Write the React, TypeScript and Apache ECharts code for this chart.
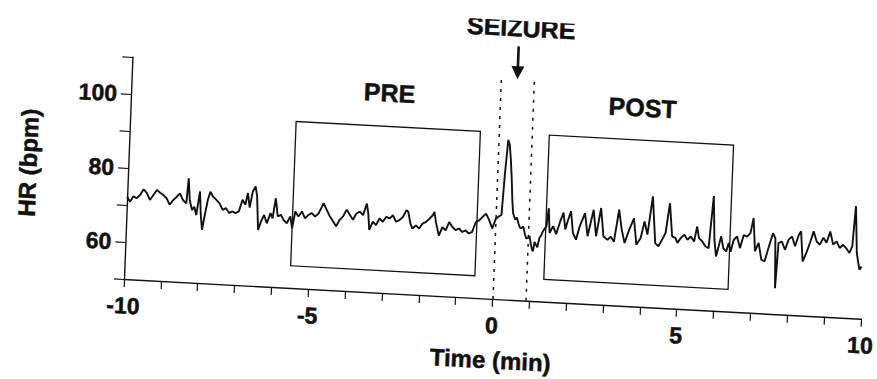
import React, { useEffect, useRef } from "react";
import * as echarts from "echarts";

// ---- Data (time in minutes relative to seizure onset, heart rate in bpm) ----
const traceBaseline: number[][] = [
  [-10.0, 72.3], [-9.92, 70.9], [-9.83, 72.4], [-9.74, 72.0], [-9.65, 72.9], [-9.56, 74.5],
  [-9.47, 73.5], [-9.38, 71.7], [-9.29, 73.1], [-9.2, 74.5], [-9.11, 73.8], [-9.02, 73.2],
  [-8.93, 72.4], [-8.84, 70.7], [-8.75, 72.0], [-8.66, 72.9], [-8.57, 73.9], [-8.48, 72.1],
  [-8.39, 71.3], [-8.35, 78.1], [-8.3, 72.2], [-8.23, 69.6], [-8.17, 70.5], [-8.11, 68.3],
  [-8.03, 74.7], [-7.99, 68.8], [-7.94, 64.4], [-7.87, 68.9], [-7.81, 72.6], [-7.75, 74.8],
  [-7.67, 73.5], [-7.58, 72.7], [-7.49, 71.8], [-7.4, 70.1], [-7.31, 70.6], [-7.22, 69.3],
  [-7.14, 69.8], [-7.05, 69.4], [-6.96, 69.9], [-6.87, 73.1], [-6.79, 71.8], [-6.73, 75.0],
  [-6.67, 71.1], [-6.6, 75.5], [-6.53, 76.9], [-6.48, 74.3], [-6.42, 65.2], [-6.35, 67.5],
  [-6.27, 69.3], [-6.19, 67.1], [-6.1, 69.9], [-6.04, 68.5], [-5.97, 74.0], [-5.9, 69.1],
  [-5.82, 69.6], [-5.74, 68.3], [-5.65, 67.4], [-5.56, 69.3], [-5.5, 66.1], [-5.43, 70.7],
  [-5.34, 69.4], [-5.25, 70.8], [-5.16, 69.0], [-5.07, 70.0], [-4.98, 70.5], [-4.89, 69.6],
  [-4.8, 70.5],
];

const tracePre: number[][] = [
  [-4.71, 72.4], [-4.67, 73.4], [-4.58, 71.6], [-4.49, 69.9], [-4.4, 68.6], [-4.31, 67.3],
  [-4.22, 69.1], [-4.13, 70.1], [-4.04, 71.9], [-3.95, 70.6], [-3.86, 69.3], [-3.77, 71.1],
  [-3.68, 71.6], [-3.59, 70.7], [-3.5, 73.9], [-3.45, 71.2], [-3.41, 66.8], [-3.32, 69.1],
  [-3.23, 68.2], [-3.14, 70.1], [-3.05, 69.2], [-2.96, 70.6], [-2.87, 70.2], [-2.78, 71.1],
  [-2.69, 69.4], [-2.6, 69.9], [-2.51, 70.8], [-2.42, 72.7], [-2.37, 72.3], [-2.3, 69.1],
  [-2.24, 67.8], [-2.15, 68.7], [-2.06, 67.9], [-1.97, 69.3], [-1.88, 69.8], [-1.79, 70.7],
  [-1.7, 71.7], [-1.66, 72.6], [-1.61, 69.9], [-1.52, 66.3], [-1.43, 68.6], [-1.34, 67.8],
  [-1.25, 70.1], [-1.16, 68.8], [-1.07, 68.0], [-0.98, 68.5], [-0.89, 67.6], [-0.8, 68.1],
  [-0.71, 67.3], [-0.62, 67.8], [-0.53, 70.5], [-0.44, 71.0], [-0.35, 72.0], [-0.26, 72.9],
  [-0.17, 71.2], [-0.08, 69.0], [0.01, 71.7],
];

const traceSeizure: number[][] = [
  [0.085, 72.3], [0.157, 72.8], [0.21, 84.1], [0.265, 93.1], [0.31, 91.8], [0.355, 87.8],
  [0.4, 82.4], [0.435, 77.0], [0.471, 73.4], [0.534, 71.7], [0.58, 72.3], [0.624, 70.8],
  [0.67, 69.6], [0.714, 69.5], [0.76, 70.0], [0.804, 68.2], [0.85, 66.8], [0.894, 66.9],
  [0.94, 67.5], [0.984, 65.2], [1.02, 63.9], [1.046, 63.4], [1.08, 66.0], [1.118, 65.3],
  [1.16, 64.6], [1.208, 67.1], [1.25, 67.8], [1.298, 69.0],
];

const tracePost: number[][] = [
  [1.388, 70.4], [1.433, 75.3], [1.478, 68.6], [1.568, 70.5], [1.657, 68.4], [1.747, 71.6],
  [1.837, 74.3], [1.9, 69.8], [1.97, 72.5], [2.04, 74.8], [2.11, 69.0], [2.2, 67.2],
  [2.29, 70.9], [2.42, 74.5], [2.51, 68.3], [2.65, 75.5], [2.74, 68.4], [2.85, 76.1],
  [2.94, 68.5], [3.05, 67.6], [3.14, 68.5], [3.23, 67.2], [3.34, 75.9], [3.43, 70.5],
  [3.52, 67.0], [3.63, 70.6], [3.75, 73.8], [3.84, 66.7], [3.95, 68.6], [4.04, 73.1],
  [4.13, 69.6], [4.24, 80.0], [4.35, 67.4], [4.44, 66.6], [4.53, 68.4], [4.62, 70.3],
  [4.71, 78.4], [4.8, 69.5], [4.89, 69.1], [4.95, 67.8], [5.04, 69.2], [5.13, 70.1],
  [5.22, 68.8], [5.31, 69.7], [5.4, 68.4], [5.47, 72.5], [5.53, 69.4], [5.62, 68.6],
  [5.71, 67.3], [5.8, 66.8], [5.89, 81.0], [5.95, 69.2], [6.01, 64.7], [6.07, 67.4],
  [6.13, 70.2], [6.2, 67.0], [6.28, 66.2], [6.34, 68.5], [6.4, 66.2],
];

const traceLate: number[][] = [
  [6.47, 69.4], [6.56, 70.4], [6.65, 67.3], [6.74, 70.9], [6.83, 70.5], [6.92, 71.5],
  [6.99, 75.6], [7.06, 66.7], [7.15, 69.0], [7.24, 64.5], [7.33, 64.1], [7.42, 67.7],
  [7.53, 71.8], [7.6, 70.5], [7.64, 57.0], [7.69, 69.2], [7.78, 69.7], [7.87, 67.5],
  [7.96, 70.3], [8.05, 71.2], [8.14, 68.6], [8.23, 71.7], [8.29, 72.7], [8.36, 64.6],
  [8.45, 66.9], [8.54, 69.7], [8.63, 72.9], [8.72, 70.2], [8.81, 69.4], [8.9, 71.3],
  [8.99, 70.0], [9.08, 73.1], [9.17, 69.6], [9.26, 70.5], [9.35, 68.8], [9.44, 69.7],
  [9.53, 68.8], [9.62, 67.6], [9.69, 69.4], [9.75, 80.3], [9.82, 67.7], [9.87, 65.0],
  [9.91, 63.2], [9.96, 64.1],
];

// analysis windows [startMin, endMin], box vertical extent [bpm low, bpm high]
const preWindow = [-5.5, -0.5];
const postWindow = [1.37, 6.37];
const boxRange = [56, 95];
// seizure markers (min)
const seizureBounds = [0, 0.9];
const xLabeled = [-10, -5, 0, 5, 10];
const yLabeled = [60, 80, 100];

const FONT = '"Liberation Sans", Arial, Helvetica, sans-serif';
const INK = "#111";
const HEAVY = { textBorderColor: INK, textBorderWidth: 0.5 };

export default function App() {
  const ref = useRef<HTMLDivElement>(null);

  useEffect(() => {
    if (!ref.current) return;
    const chart = echarts.init(ref.current, undefined, { renderer: "svg" });
    const data = [...traceBaseline, ...tracePre, ...traceSeizure, ...tracePost, ...traceLate];

    chart.setOption({
      animation: false,
      backgroundColor: "#fff",
      textStyle: { fontFamily: FONT },
      grid: { left: 124, top: 57, width: 741, height: 222 },
      xAxis: {
        type: "value",
        min: -10,
        max: 10,
        interval: 1,
        name: "Time (min)",
        nameLocation: "middle",
        nameGap: 49,
        nameTextStyle: { fontSize: 24, fontWeight: "bold", color: INK, fontFamily: FONT, ...HEAVY },
        axisLine: { onZero: false, lineStyle: { color: INK, width: 1.4 } },
        axisTick: { length: 8, lineStyle: { color: INK, width: 1.2 } },
        axisLabel: {
          margin: 15,
          fontSize: 23,
          fontWeight: "bold",
          color: INK,
          fontFamily: FONT,
          ...HEAVY,
          formatter: (v: number) => (xLabeled.includes(v) ? String(v) : ""),
        },
        splitLine: { show: false },
      },
      yAxis: {
        type: "value",
        min: 50,
        max: 110,
        interval: 10,
        name: "HR (bpm)",
        nameLocation: "middle",
        nameRotate: 90,
        nameGap: 88,
        nameTextStyle: { fontSize: 24, fontWeight: "bold", color: INK, fontFamily: FONT, ...HEAVY },
        axisLine: { show: true, onZero: false, lineStyle: { color: INK, width: 1.4 } },
        axisTick: { show: true, length: 10, lineStyle: { color: INK, width: 1.2 } },
        axisLabel: {
          margin: 14,
          fontSize: 23,
          fontWeight: "bold",
          color: INK,
          fontFamily: FONT,
          ...HEAVY,
          formatter: (v: number) => (yLabeled.includes(v) ? String(v) : ""),
        },
        splitLine: { show: false },
      },
      series: [
        {
          type: "line",
          data,
          symbol: "none",
          showSymbol: false,
          clip: false,
          lineStyle: { color: INK, width: 1.9 },
          markLine: {
            silent: true,
            symbol: ["none", "none"],
            label: { show: false },
            lineStyle: { type: [3, 6], color: INK, width: 1.5 },
            data: seizureBounds.map((x) => ({ xAxis: x })),
          },
          markArea: {
            silent: true,
            itemStyle: { color: "rgba(0,0,0,0)", borderColor: INK, borderWidth: 1.3 },
            data: [
              [{ coord: [preWindow[0], boxRange[0]] }, { coord: [preWindow[1], boxRange[1]] }],
              [{ coord: [postWindow[0], boxRange[0]] }, { coord: [postWindow[1], boxRange[1]] }],
            ],
          },
        },
      ],
    });

    const p = (t: number, h: number) => chart.convertToPixel({ gridIndex: 0 }, [t, h]) as number[];
    const mid = (seizureBounds[0] + seizureBounds[1]) / 2;
    const tip = p(mid, 109.6);
    const top = p(mid, 118.5);
    const label = (text: string, pt: number[]) => ({
      type: "text",
      x: pt[0],
      y: pt[1],
      style: {
        text,
        fill: INK,
        stroke: INK,
        lineWidth: 0.5,
        font: `bold 25px ${FONT}`,
        align: "center",
        verticalAlign: "middle",
        textAlign: "center",
        textVerticalAlign: "middle",
      },
    });
    chart.setOption({
      graphic: [
        label("SEIZURE", p(0.5, 123.6)),
        label("PRE", p((preWindow[0] + preWindow[1]) / 2, 104.1)),
        label("POST", p((postWindow[0] + postWindow[1]) / 2, 103.8)),
        {
          type: "line",
          shape: { x1: top[0], y1: top[1], x2: tip[0], y2: tip[1] - 10 },
          style: { stroke: INK, lineWidth: 2.6 },
        },
        {
          type: "polygon",
          shape: {
            points: [
              [tip[0] - 6.5, tip[1] - 13],
              [tip[0] + 6.5, tip[1] - 13],
              [tip[0], tip[1]],
            ],
          },
          style: { fill: INK },
        },
      ],
    });

    return () => chart.dispose();
  }, []);

  return (
    <div
      ref={ref}
      style={{
        position: "absolute",
        left: 0,
        top: 0,
        width: 877,
        height: 379,
        transformOrigin: "124px 279px",
        transform: "matrix(1, 0.054, -0.038, 1, 0, 0)",
      }}
    />
  );
}
